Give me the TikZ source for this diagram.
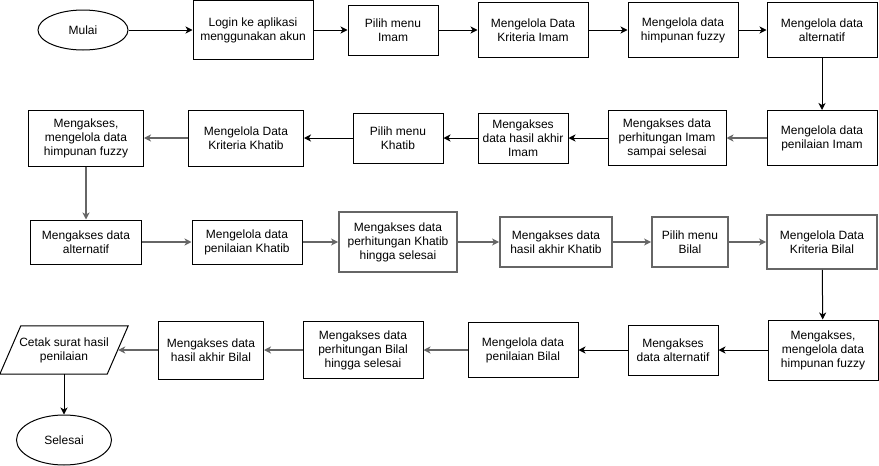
\documentclass[tikz,border=0pt]{standalone}
\usepackage{fontspec}
\setmainfont{Liberation Sans}
\usetikzlibrary{arrows.meta,shapes.geometric}
\definecolor{abu}{HTML}{666666}

\begin{document}
\begin{tikzpicture}[x=1pt,y=-1pt,
  every node/.style={font=\fontsize{12}{14}\selectfont, align=center, inner sep=0pt},
  kotak/.style={draw, line width=1pt},
  kotakabu/.style={draw=abu, line width=1.8pt},
  ujung/.style={draw, ellipse, line width=1pt},
  panah/.style={-{Stealth[length=7pt,width=7pt,inset=2pt]}, line width=1pt},
  panahabu/.style={panah, draw=abu, line width=1.5pt}]
\useasboundingbox (0,0) rectangle (879,466);
% baris 1
\node[ujung, minimum width=90pt, minimum height=40pt] (mulai) at (83,30) {Mulai};
\node[kotak, minimum width=120pt, minimum height=59pt] (login) at (253,30) {Login ke aplikasi\\menggunakan akun};
\node[kotak, minimum width=90pt, minimum height=50pt] (pilihimam) at (393,30) {Pilih menu\\Imam};
\node[kotak, minimum width=110pt, minimum height=55pt] (kriteriaimam) at (533,30) {Mengelola Data\\Kriteria Imam};
\node[kotak, minimum width=110pt, minimum height=55pt] (fuzzyimam) at (683,30) {Mengelola data\\himpunan fuzzy};
\node[kotak, minimum width=110pt, minimum height=55pt] (altimam) at (822,30) {Mengelola data\\alternatif};
% baris 2
\node[kotak, minimum width=110pt, minimum height=55pt] (penilaianimam) at (822,138) {Mengelola data\\penilaian Imam};
\node[kotak, minimum width=118pt, minimum height=55pt] (hitungimam) at (667,138) {Mengakses data\\perhitungan Imam\\sampai selesai};
\node[kotak, minimum width=90pt, minimum height=50pt] (hasilimam) at (523,138) {Mengakses\\data hasil akhir\\Imam};
\node[kotak, minimum width=90pt, minimum height=50pt] (pilihkhatib) at (398,138) {Pilih menu\\Khatib};
\node[kotak, minimum width=115pt, minimum height=56pt] (kriteriakhatib) at (246,138) {Mengelola Data\\Kriteria Khatib};
\node[kotak, minimum width=115pt, minimum height=56pt] (fuzzykhatib) at (86,138) {Mengakses,\\mengelola data\\himpunan fuzzy};
% baris 3
\node[kotak, minimum width=111pt, minimum height=44pt] (altkhatib) at (86,242) {Mengakses data\\alternatif};
\node[kotak, minimum width=110pt, minimum height=44pt] (penilaiankhatib) at (247,242) {Mengelola data\\penilaian Khatib};
\node[kotakabu, minimum width=118pt, minimum height=60pt] (hitungkhatib) at (398,242) {Mengakses data\\perhitungan Khatib\\hingga selesai};
\node[kotakabu, minimum width=112pt, minimum height=50pt] (hasilkhatib) at (556,242) {Mengakses data\\hasil akhir Khatib};
\node[kotakabu, minimum width=76pt, minimum height=50pt] (pilihbilal) at (690,242) {Pilih menu\\Bilal};
\node[kotakabu, minimum width=110pt, minimum height=54pt] (kriteriabilal) at (822,242) {Mengelola Data\\Kriteria Bilal};
% baris 4
\node[kotak, minimum width=110pt, minimum height=60pt] (fuzzybilal) at (823,350) {Mengakses,\\mengelola data\\himpunan fuzzy};
\node[kotak, minimum width=90pt, minimum height=50pt] (altbilal) at (673,350) {Mengakses\\data alternatif};
\node[kotak, minimum width=110pt, minimum height=55pt] (penilaianbilal) at (523,350) {Mengelola data\\penilaian Bilal};
\node[kotak, minimum width=120pt, minimum height=57pt] (hitungbilal) at (363,350) {Mengakses data\\perhitungan Bilal\\hingga selesai};
\node[kotak, minimum width=105pt, minimum height=58pt] (hasilbilal) at (211,350) {Mengakses data\\hasil akhir Bilal};
\node[minimum width=128pt, minimum height=48pt] (cetak) at (64,350) {Cetak surat hasil\\penilaian};
\draw[line width=1pt] ([xshift=21pt]cetak.north west) -- (cetak.north east)
  -- ([xshift=-21pt]cetak.south east) -- (cetak.south west) -- cycle;
\node[ujung, minimum width=95pt, minimum height=50pt] (selesai) at (64,440) {Selesai};
% panah
\draw[panah] (mulai) -- (login);
\draw[panah] (login) -- (pilihimam);
\draw[panah] (pilihimam) -- (kriteriaimam);
\draw[panah] (kriteriaimam) -- (fuzzyimam);
\draw[panah] (fuzzyimam) -- (altimam);
\draw[panah] (altimam) -- (penilaianimam);
\draw[panahabu] (penilaianimam) -- (hitungimam);
\draw[panah] (hitungimam) -- (hasilimam);
\draw[panah] (hasilimam) -- (pilihkhatib);
\draw[panah] (pilihkhatib) -- (kriteriakhatib);
\draw[panahabu] (kriteriakhatib) -- (fuzzykhatib);
\draw[panahabu] (fuzzykhatib) -- (altkhatib);
\draw[panahabu] (altkhatib) -- (penilaiankhatib);
\draw[panahabu] (penilaiankhatib) -- (hitungkhatib);
\draw[panahabu] (hitungkhatib) -- (hasilkhatib);
\draw[panahabu] (hasilkhatib) -- (pilihbilal);
\draw[panahabu] (pilihbilal) -- (kriteriabilal);
\draw[panah] (kriteriabilal) -- (fuzzybilal);
\draw[panah] (fuzzybilal) -- (altbilal);
\draw[panah] (altbilal) -- (penilaianbilal);
\draw[panahabu] (penilaianbilal) -- (hitungbilal);
\draw[panahabu] (hitungbilal) -- (hasilbilal);
\draw[panahabu] (hasilbilal) -- ([xshift=-10pt]cetak.east);
\draw[panah] (cetak.south) -- (selesai);
\end{tikzpicture}
\end{document}
